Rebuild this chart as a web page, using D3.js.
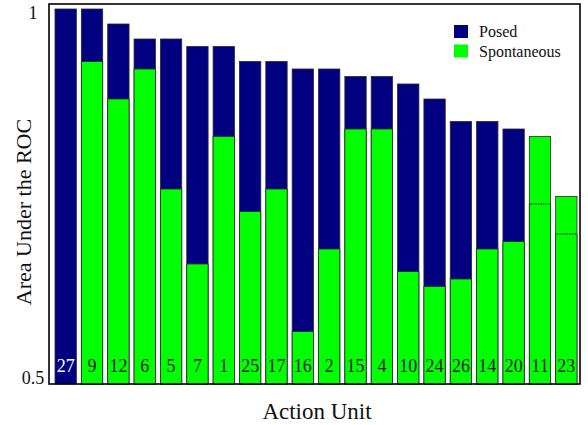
<!DOCTYPE html>
<html>
<head>
<meta charset="utf-8">
<script src="https://cdn.jsdelivr.net/npm/d3@7"></script>
<style>
  html, body { margin: 0; padding: 0; background: #fff; }
  svg { display: block; }
</style>
</head>
<body>
<svg id="chart" width="588" height="425"></svg>
<script>
const actionUnits = ["27","9","12","6","5","7","1","25","17","16","2","15","4","10","24","26","14","20","11","23"];
const posed       = [1.00,1.00,0.98,0.96,0.96,0.95,0.95,0.93,0.93,0.92,0.92,0.91,0.91,0.90,0.88,0.85,0.85,0.84,0.74,0.70];
const spontaneous = [null,0.93,0.88,0.92,0.76,0.66,0.83,0.73,0.76,0.57,0.68,0.84,0.84,0.65,0.63,0.64,0.68,0.69,0.83,0.75];
const yTicks = [0.5, 1];
const seriesNames = ["Posed", "Spontaneous"];
const colors = { Posed: "#000080", Spontaneous: "#00ff00" };
const FONT = '"Liberation Serif", "Tinos", "Times New Roman", serif';

const svg = d3.select("#chart");
const frame = { left: 49, right: 580, top: 4, bottom: 384 };

const x = d3.scaleBand()
  .domain(actionUnits)
  .range([52.5, 579.5])
  .paddingInner(0.19)
  .paddingOuter(0.095);

const y = d3.scaleLinear()
  .domain([0.5, 1])
  .range([384, 9]);

const data = actionUnits.map((au, i) => ({ au, posed: posed[i], spont: spontaneous[i] }));

// Posed bars (behind)
svg.append("g").selectAll("rect")
  .data(data)
  .join("rect")
  .attr("x", d => x(d.au))
  .attr("y", d => y(d.posed))
  .attr("width", x.bandwidth())
  .attr("height", d => y(0.5) - y(d.posed))
  .attr("fill", colors.Posed)
  .attr("stroke", "#2a2a2a")
  .attr("stroke-width", 0.8);

// Spontaneous bars (front)
svg.append("g").selectAll("rect")
  .data(data.filter(d => d.spont != null))
  .join("rect")
  .attr("x", d => x(d.au))
  .attr("y", d => y(d.spont))
  .attr("width", x.bandwidth())
  .attr("height", d => y(0.5) - y(d.spont))
  .attr("fill", colors.Spontaneous)
  .attr("stroke", "#2a2a2a")
  .attr("stroke-width", 0.8);

// Hidden posed tops shown as dotted lines
svg.append("g").selectAll("line")
  .data(data.filter(d => d.spont != null && d.spont > d.posed))
  .join("line")
  .attr("x1", d => x(d.au) + 1)
  .attr("x2", d => x(d.au) + x.bandwidth() - 1)
  .attr("y1", d => y(d.posed))
  .attr("y2", d => y(d.posed))
  .attr("stroke", "#000")
  .attr("stroke-width", 1)
  .attr("stroke-dasharray", "1.5,1");

// Bar labels
svg.append("g").selectAll("text")
  .data(data)
  .join("text")
  .attr("x", d => x(d.au) + x.bandwidth() / 2)
  .attr("y", y(0.5) - 12)
  .attr("text-anchor", "middle")
  .attr("font-size", 18)
  .style("font-family", FONT)
  .attr("fill", d => d.spont == null ? "#ffffff" : "#1c1c1c")
  .text(d => d.au);

// Frame
svg.append("rect")
  .attr("x", frame.left)
  .attr("y", frame.top)
  .attr("width", frame.right - frame.left)
  .attr("height", frame.bottom - frame.top)
  .attr("fill", "none")
  .attr("stroke", "#000")
  .attr("stroke-width", 1.6);

// Y tick labels
svg.append("g").selectAll("text")
  .data(yTicks)
  .join("text")
  .attr("x", 33)
  .attr("y", d => d === 1 ? y(d) + 10 : y(d))
  .attr("text-anchor", "middle")
  .attr("font-size", 18)
  .style("font-family", FONT)
  .attr("fill", "#111")
  .text(d => d3.format("")(d));

// Axis titles
svg.append("text")
  .attr("transform", `translate(31, ${(frame.top + frame.bottom) / 2 + 18}) rotate(-90)`)
  .attr("text-anchor", "middle")
  .attr("font-size", 22)
  .style("font-family", FONT)
  .attr("fill", "#111")
  .text("Area Under the ROC");

svg.append("text")
  .attr("x", 317)
  .attr("y", 419)
  .attr("text-anchor", "middle")
  .attr("font-size", 23)
  .style("font-family", FONT)
  .attr("fill", "#111")
  .text("Action Unit");

// Legend
const legend = svg.append("g");
seriesNames.forEach((name, i) => {
  legend.append("rect")
    .attr("x", 454)
    .attr("y", 25 + i * 19.5)
    .attr("width", 14)
    .attr("height", 13)
    .attr("fill", colors[name]);
  legend.append("text")
    .attr("x", 479)
    .attr("y", 37 + i * 19.5)
    .attr("font-size", 16)
    .style("font-family", FONT)
    .attr("fill", "#111")
    .text(name);
});
</script>
</body>
</html>
